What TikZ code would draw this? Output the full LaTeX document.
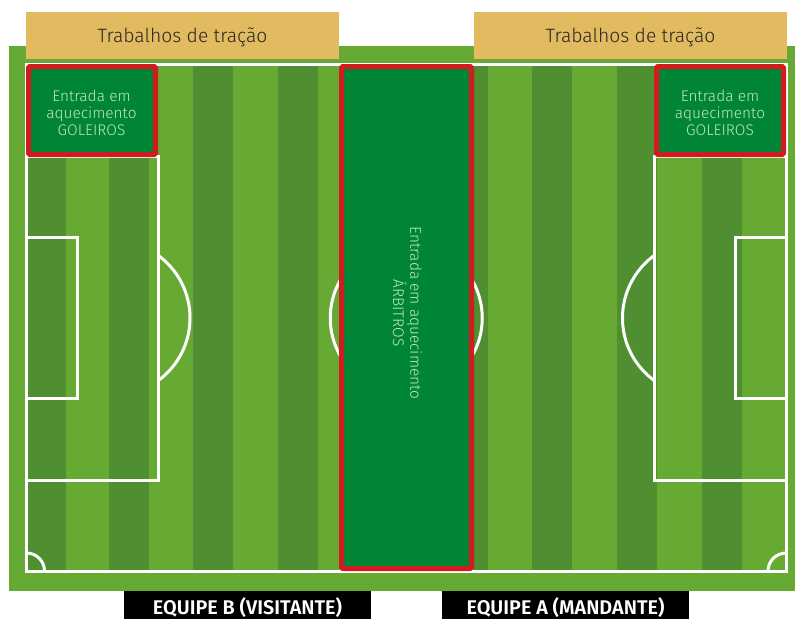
\documentclass[tikz,border=0pt]{standalone}
\usepackage{fontspec}
\setmainfont{Fira Sans}[UprightFont={* Light}, BoldFont={* SemiBold}]
\definecolor{lightg}{HTML}{66AA33}
\definecolor{darkg}{HTML}{508E32}
\definecolor{boxg}{HTML}{008537}
\definecolor{redc}{HTML}{D01C1F}
\definecolor{tanc}{HTML}{E2BA5F}
\definecolor{mint}{HTML}{C2E6C2}
\definecolor{txtdark}{HTML}{262626}
\begin{document}
\begin{tikzpicture}[x=1pt,y=-1pt,
  wline/.style={draw=white,line width=3pt},
  redbox/.style={draw=redc,line width=5pt,fill=boxg,rounded corners=1.5pt,inner sep=0pt},
  boxtxt/.style={text=mint,font=\fontsize{15.4}{17.2}\selectfont,align=center,inner sep=0pt},
  tanbox/.style={fill=tanc,minimum width=313pt,minimum height=47pt,inner sep=0pt},
  tantxt/.style={text=txtdark,font=\fontsize{19.3}{22}\selectfont,inner sep=0pt},
  blackbox/.style={fill=black,minimum width=247pt,minimum height=28pt,inner sep=0pt},
  teamtxt/.style={text=white,font=\fontsize{19.8}{22}\selectfont\bfseries,inner sep=0pt}]
\useasboundingbox (0,0) rectangle (795,619);
\fill[white] (0,0) rectangle (795,619);
% pitch
\fill[lightg] (9,46) rectangle (795,591);
\foreach \x in {26,109,193,278,363,448,532,617,702}
  \fill[darkg] (\x,64) rectangle ++(39.5,507);
\draw[wline] (26.5,64.5) rectangle (786,571);
\draw[wline] (26.5,156) rectangle (158.5,480);
\draw[wline] (26.5,237.5) rectangle (77.5,398);
\draw[wline] (654,156) rectangle (786,480);
\draw[wline] (735,237.5) rectangle (786,398);
\begin{scope}
  \clip (158.5,0) rectangle (300,619);
  \draw[wline] (112.5,318) circle[radius=77.5];
\end{scope}
\begin{scope}
  \clip (500,0) rectangle (654,619);
  \draw[wline] (700,318) circle[radius=77.5];
\end{scope}
\draw[wline] (406.25,318) circle[radius=76];
\begin{scope}
  \clip (26.5,64.5) rectangle (786,571);
  \draw[wline] (26.5,571) circle[radius=18];
  \draw[wline] (786,571) circle[radius=18];
\end{scope}
% boxes
\node[redbox,minimum width=127pt,minimum height=88pt] (gkL) at (92,110.5) {};
\node[redbox,minimum width=127pt,minimum height=88pt] (gkR) at (720,110.5) {};
\node[redbox,minimum width=130pt,minimum height=502pt] (ref) at (406.5,317.5) {};
\node[boxtxt] (gkLt) at (91.5,113) {Entrada em\\aquecimento\\GOLEIROS};
\node[boxtxt] (gkRt) at (720,113) {Entrada em\\aquecimento\\GOLEIROS};
\node[boxtxt,rotate=-90] (reft) at (407.5,313) {Entrada em aquecimento\\ÁRBITROS};
% top labels
\node[tanbox] (tanL) at (182.5,35.5) {};
\node[tanbox] (tanR) at (630.5,35.5) {};
\node[tantxt] (tanLt) at (182.5,37.5) {Trabalhos de tração};
\node[tantxt] (tanRt) at (630.5,37.5) {Trabalhos de tração};
% bottom labels
\node[blackbox] (teamB) at (247.5,605) {};
\node[blackbox] (teamA) at (565.5,605) {};
\node[teamtxt] (teamBt) at (247.5,608) {EQUIPE B (VISITANTE)};
\node[teamtxt] (teamAt) at (565.5,608) {EQUIPE A (MANDANTE)};
\end{tikzpicture}
\end{document}
